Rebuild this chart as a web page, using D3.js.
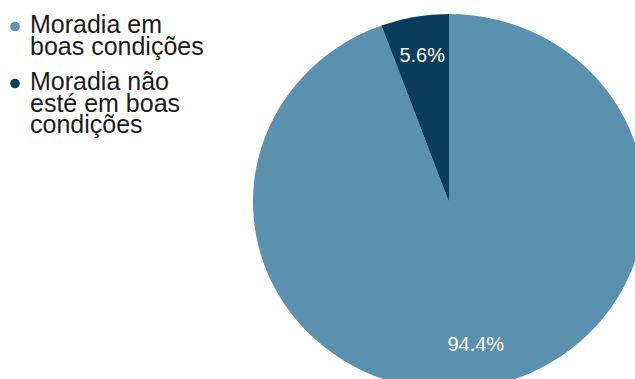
<!DOCTYPE html>
<html>
<head>
<meta charset="utf-8">
<script src="https://cdn.jsdelivr.net/npm/d3@7"></script>
<style>
  body { margin: 0; background: #fff; }
  svg { display: block; font-family: "Liberation Sans", Arial, sans-serif; }
</style>
</head>
<body>
<div id="app"></div>
<script>
// data
const categories = ["Moradia em boas condições", "Moradia não esté em boas condições"];
const values = [94.4, 5.6];
const legendLines = [["Moradia em", "boas condições"], ["Moradia não", "esté em boas", "condições"]];
const colors = ["#5a91af", "#0b3e5d"];

const width = 635, height = 379;
const cx = 449, cy = 202;
const rx = 196, ry = 188;   // pie is a touch squashed vertically

const svg = d3.select("#app")
  .append("svg")
    .attr("width", width)
    .attr("height", height);

const color = d3.scaleOrdinal()
  .domain(categories)
  .range(colors);

const pie = d3.pie()
  .sort(null)
  .value(d => d.value);

const data = categories.map((c, i) => ({ name: c, value: values[i] }));
const arcs = pie(data);

const arc = d3.arc()
  .innerRadius(0)
  .outerRadius(rx);

const labelArc = d3.arc()
  .innerRadius(rx * 0.78)
  .outerRadius(rx * 0.78);

svg.append("g")
    .attr("transform", "translate(" + cx + "," + cy + ") scale(1," + (ry / rx) + ")")
  .selectAll("path")
  .data(arcs)
  .enter().append("path")
    .attr("d", arc)
    .attr("fill", d => color(d.data.name));

svg.append("g")
  .selectAll("text")
  .data(arcs)
  .enter().append("text")
    .attr("x", d => cx + labelArc.centroid(d)[0])
    .attr("y", d => cy + labelArc.centroid(d)[1] * ry / rx)
    .attr("dy", "0.22em")
    .attr("text-anchor", "middle")
    .attr("fill", "#fff")
    .attr("font-size", 20)
    .text(d => d.data.value.toFixed(1) + "%");

// legend
const lineH = 21.7;
const legend = svg.append("g")
  .selectAll("g")
  .data(categories)
  .enter().append("g")
    .attr("transform", (d, i) => "translate(0," + (i === 0 ? 33 : 90) + ")");

legend.append("circle")
  .attr("cx", 15)
  .attr("cy", -6.5)
  .attr("r", 4.8)
  .attr("fill", d => color(d));

legend.append("text")
  .attr("x", 30)
  .attr("y", 0)
  .attr("font-size", 25)
  .attr("fill", "#1b1b1b")
  .selectAll("tspan")
  .data((d, i) => legendLines[i])
  .enter().append("tspan")
    .attr("x", 30)
    .attr("dy", (d, j) => j === 0 ? 0 : lineH)
    .text(d => d);
</script>
</body>
</html>
